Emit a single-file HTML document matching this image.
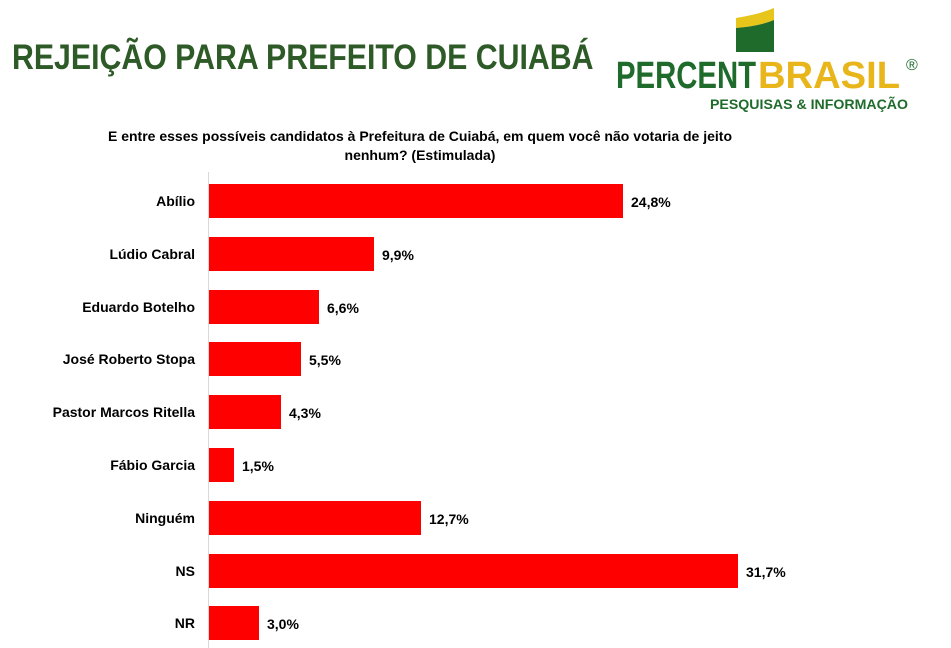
<!DOCTYPE html>
<html><head><meta charset="utf-8"><style>
body{margin:0;width:951px;height:648px;background:#fff;position:relative;overflow:hidden;font-family:"Liberation Sans",sans-serif}
.t{position:absolute;left:12px;top:38px;font-size:35px;font-weight:bold;color:#2d5a27;transform:scaleX(0.865);transform-origin:left;white-space:nowrap}
.sub{position:absolute;left:90px;width:660px;top:127px;text-align:center;font-size:14px;font-weight:bold;line-height:19px;color:#000}
.lab{position:absolute;right:756px;font-size:14px;font-weight:bold;text-align:right;white-space:nowrap}
.bar{position:absolute;left:209px;height:34px;background:#ff0000}
.v{position:absolute;font-size:14px;font-weight:bold}
.ax{position:absolute;left:208px;top:172px;width:1px;height:476px;background:#d9d9d9}
</style></head><body>
<div class="t">REJEIÇÃO PARA PREFEITO DE CUIABÁ</div>
<svg style="position:absolute;left:600px;top:0" width="340" height="120">
<path d="M136 18 Q160 14 174 8 L174 20 Q160 26 136 28 Z" fill="#e8c51a"/>
<path d="M136 28 Q160 26 174 20 L174 52 L136 52 Z" fill="#1e6b2b"/>
<text x="16" y="88" font-family="Liberation Sans" font-weight="bold" font-size="38" fill="#1e6b2b" textLength="140" lengthAdjust="spacingAndGlyphs">PERCENT</text>
<text x="158" y="88" font-family="Liberation Sans" font-weight="bold" font-size="38" fill="#e8b51a" textLength="142" lengthAdjust="spacingAndGlyphs">BRASIL</text>
<text x="306" y="70" font-family="Liberation Sans" font-size="16" fill="#1e6b2b">®</text>
<text x="110" y="109" font-family="Liberation Sans" font-weight="bold" font-size="14" fill="#1e6b2b" textLength="198" lengthAdjust="spacingAndGlyphs">PESQUISAS &amp; INFORMAÇÃO</text>
</svg>
<div class="sub">E entre esses possíveis candidatos à Prefeitura de Cuiabá, em quem você não votaria de jeito nenhum? (Estimulada)</div>
<div class="ax"></div>
<div class="lab" style="top:193px">Abílio</div><div class="bar" style="top:184px;width:414px"></div><div class="v" style="left:631px;top:194px">24,8%</div>
<div class="lab" style="top:246px">Lúdio Cabral</div><div class="bar" style="top:237px;width:165px"></div><div class="v" style="left:382px;top:247px">9,9%</div>
<div class="lab" style="top:299px">Eduardo Botelho</div><div class="bar" style="top:290px;width:110px"></div><div class="v" style="left:327px;top:300px">6,6%</div>
<div class="lab" style="top:351px">José Roberto Stopa</div><div class="bar" style="top:342px;width:92px"></div><div class="v" style="left:309px;top:352px">5,5%</div>
<div class="lab" style="top:404px">Pastor Marcos Ritella</div><div class="bar" style="top:395px;width:72px"></div><div class="v" style="left:289px;top:405px">4,3%</div>
<div class="lab" style="top:457px">Fábio Garcia</div><div class="bar" style="top:448px;width:25px"></div><div class="v" style="left:242px;top:458px">1,5%</div>
<div class="lab" style="top:510px">Ninguém</div><div class="bar" style="top:501px;width:212px"></div><div class="v" style="left:429px;top:511px">12,7%</div>
<div class="lab" style="top:563px">NS</div><div class="bar" style="top:554px;width:529px"></div><div class="v" style="left:746px;top:564px">31,7%</div>
<div class="lab" style="top:615px">NR</div><div class="bar" style="top:606px;width:50px"></div><div class="v" style="left:267px;top:616px">3,0%</div>
</body></html>
